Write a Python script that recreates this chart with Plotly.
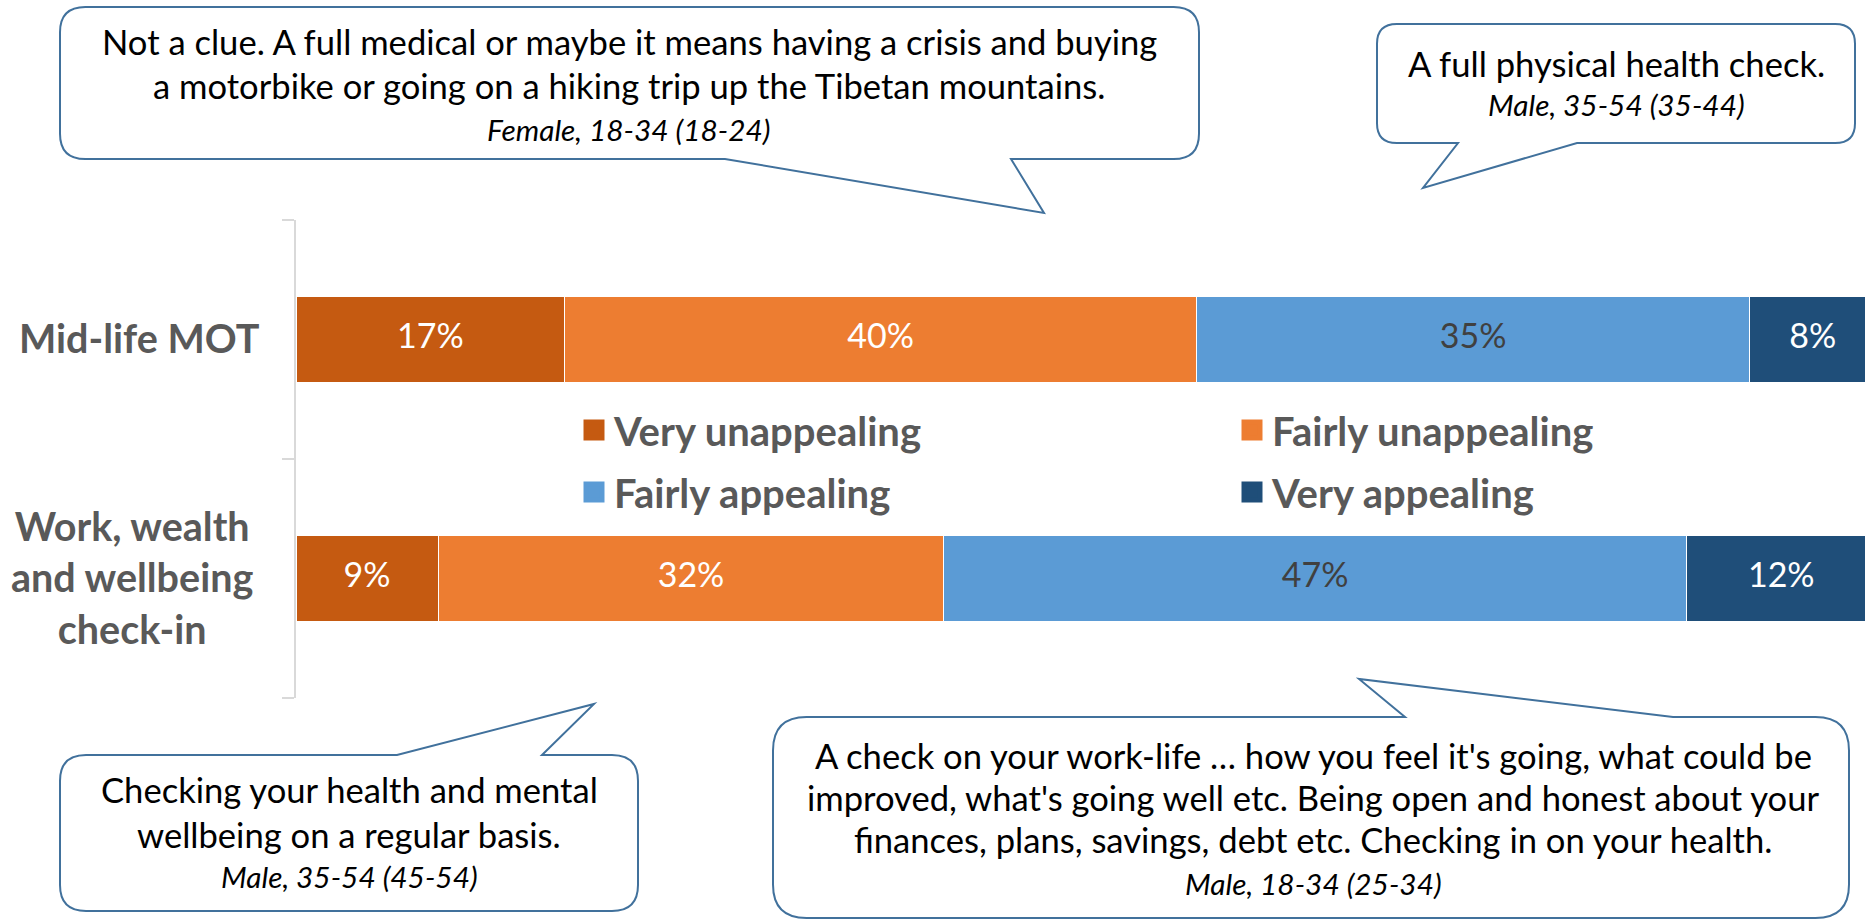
import plotly.graph_objects as go

W, H = 1865, 921

# ---- data -------------------------------------------------------------
categories = ["Work, wealth and wellbeing check-in", "Mid-life MOT"]
category_text = ["Work, wealth<br>and wellbeing<br>check-in", "Mid-life MOT"]

series_names = ["Very unappealing", "Fairly unappealing", "Fairly appealing", "Very appealing"]
very_unappealing = [9, 17]
fairly_unappealing = [32, 40]
fairly_appealing = [47, 35]
very_appealing = [12, 8]
series_values = [very_unappealing, fairly_unappealing, fairly_appealing, very_appealing]

quote_top_left = [
    "Not a clue. A full medical or maybe it means having a crisis and buying",
    "a motorbike or going on a hiking trip up the Tibetan mountains.",
]
source_top_left = "Female, 18-34 (18-24)"

quote_top_right = ["A full physical health check."]
source_top_right = "Male, 35-54 (35-44)"

quote_bottom_left = [
    "Checking your health and mental",
    "wellbeing on a regular basis.",
]
source_bottom_left = "Male, 35-54 (45-54)"

quote_bottom_right = [
    "A check on your work-life \u2026 how you feel it's going, what could be",
    "improved, what's going well etc. Being open and honest about your",
    "finances, plans, savings, debt etc. Checking in on your health.",
]
source_bottom_right = "Male, 18-34 (25-34)"

# ---- styles -----------------------------------------------------------
series_colors = ["#C55A11", "#ED7D31", "#5B9BD5", "#1F4E79"]
label_colors = ["white", "white", "#404040", "white"]
FONT = "Lato"
GREY = "#595959"
OUTLINE = "#41719C"
QUOTE_SIZE = 34.6
SOURCE_SIZE = 29.8


def px(x):
    return x / W


def py(y):
    return 1 - y / H


def callout_path(x0, y0, x1, y1, tail_a, tail_b, tip, side):
    r = 0.1667 * min(x1 - x0, y1 - y0)
    d = f"M{px(x0 + r)},{py(y0)}"
    if side == "top":
        d += f" L{px(tail_a)},{py(y0)} L{px(tip[0])},{py(tip[1])} L{px(tail_b)},{py(y0)}"
    d += f" L{px(x1 - r)},{py(y0)} Q{px(x1)},{py(y0)} {px(x1)},{py(y0 + r)}"
    d += f" L{px(x1)},{py(y1 - r)} Q{px(x1)},{py(y1)} {px(x1 - r)},{py(y1)}"
    if side == "bottom":
        d += f" L{px(tail_b)},{py(y1)} L{px(tip[0])},{py(tip[1])} L{px(tail_a)},{py(y1)}"
    d += f" L{px(x0 + r)},{py(y1)} Q{px(x0)},{py(y1)} {px(x0)},{py(y1 - r)}"
    d += f" L{px(x0)},{py(y0 + r)} Q{px(x0)},{py(y0)} {px(x0 + r)},{py(y0)} Z"
    return d


fig = go.Figure()

# stacked bars
for name, vals, col in zip(series_names, series_values, series_colors):
    fig.add_trace(go.Bar(
        y=categories, x=vals, name=name, orientation="h",
        marker=dict(color=col, line=dict(color="white", width=1)),
        showlegend=False, legendgroup=name, hoverinfo="skip",
    ))

# percentage labels centred on each segment
for i, (vals, tcol) in enumerate(zip(series_values, label_colors)):
    starts = [sum(v[k] for v in series_values[:i]) for k in range(len(categories))]
    centers = [s + v / 2 for s, v in zip(starts, vals)]
    fig.add_trace(go.Scatter(
        y=categories, x=centers, mode="text",
        text=[f"{v}%" for v in vals],
        textfont=dict(family=FONT, size=34, color=tcol),
        showlegend=False, hoverinfo="skip", cliponaxis=False,
    ))

# legend entries: one small legend per entry, laid out as a 2 x 2 grid
legend_ids = ["legend", "legend2", "legend3", "legend4"]
for name, col, lid in zip(series_names, series_colors, legend_ids):
    fig.add_trace(go.Scatter(
        x=[None], y=[None], mode="markers", name=name, legendgroup=name,
        marker=dict(symbol="square", size=16, color=col, line=dict(color=col, width=5)),
        legend=lid,
    ))

shapes = [
    dict(type="path", xref="paper", yref="paper",
         path=callout_path(60, 7, 1199, 159, 725, 1011, (1044, 213), "bottom"),
         fillcolor="white", line=dict(color=OUTLINE, width=2)),
    dict(type="path", xref="paper", yref="paper",
         path=callout_path(1377, 24, 1855, 143, 1458, 1577, (1423, 188), "bottom"),
         fillcolor="white", line=dict(color=OUTLINE, width=2)),
    dict(type="path", xref="paper", yref="paper",
         path=callout_path(60, 755, 638, 911, 397, 542, (594, 704), "top"),
         fillcolor="white", line=dict(color=OUTLINE, width=2)),
    dict(type="path", xref="paper", yref="paper",
         path=callout_path(773, 717, 1849, 918, 1405, 1673, (1359, 679), "top"),
         fillcolor="white", line=dict(color=OUTLINE, width=2)),
]

annotations = []


def add_quote(lines, source, cx, baselines):
    # baselines in px; annotation boxes are centred, so shift up by ~0.387 em
    for text, b in zip(lines, baselines[:-1]):
        annotations.append(dict(
            x=px(cx), y=py(b - 0.387 * QUOTE_SIZE), xref="paper", yref="paper", text=text,
            showarrow=False, xanchor="center", yanchor="middle",
            font=dict(family=FONT, size=QUOTE_SIZE, color="black"),
        ))
    annotations.append(dict(
        x=px(cx), y=py(baselines[-1] - 0.387 * SOURCE_SIZE), xref="paper", yref="paper",
        text=f"<i>{source}</i>",
        showarrow=False, xanchor="center", yanchor="middle",
        font=dict(family=FONT, size=SOURCE_SIZE, color="black"),
    ))


add_quote(quote_top_left, source_top_left, 629, [55, 99, 141.5])
add_quote(quote_top_right, source_top_right, 1616, [77, 116.5])
add_quote(quote_bottom_left, source_bottom_left, 349, [803, 848, 888])
add_quote(quote_bottom_right, source_bottom_right, 1313, [769, 811, 853, 895])

# category labels, centred beside the axis
for cat, txt, cx in zip(categories, category_text, [132, 139]):
    annotations.append(dict(
        x=px(cx), y=cat, xref="paper", yref="y", text=f"<b>{txt}</b>", yshift=2,
        showarrow=False, xanchor="center", yanchor="middle", align="center",
        font=dict(family=FONT, size=39.5, color=GREY),
    ))

legend_style = dict(
    orientation="h", xanchor="left", yanchor="middle",
    font=dict(family=FONT, size=40, color=GREY, weight="bold"),
    bgcolor="rgba(0,0,0,0)", borderwidth=0, itemclick=False, itemdoubleclick=False,
)
legend_pos = [(574, 430), (1232, 430), (574, 492), (1232, 492)]
legend_layout = {
    lid: dict(x=px(lx), y=py(ly), **legend_style)
    for lid, (lx, ly) in zip(legend_ids, legend_pos)
}

fig.update_layout(
    width=W, height=H,
    margin=dict(l=0, r=0, t=0, b=0, autoexpand=False),
    paper_bgcolor="white", plot_bgcolor="white",
    barmode="stack", bargap=0.644,
    font=dict(family=FONT),
    xaxis=dict(domain=[px(296), 1], range=[0, 99.3], visible=False, fixedrange=True),
    yaxis=dict(
        domain=[py(698), py(220)], type="category",
        categoryorder="array", categoryarray=categories, range=[-0.5, 1.5],
        showticklabels=False, showgrid=False, zeroline=False,
        showline=True, linecolor="#D9D9D9", linewidth=1.5,
        ticks="outside", tickson="boundaries", ticklen=12, tickcolor="#D9D9D9", tickwidth=1.5,
        fixedrange=True,
    ),
    shapes=shapes,
    annotations=annotations,
    showlegend=True,
    **legend_layout,
)

fig.write_html("out.html")
